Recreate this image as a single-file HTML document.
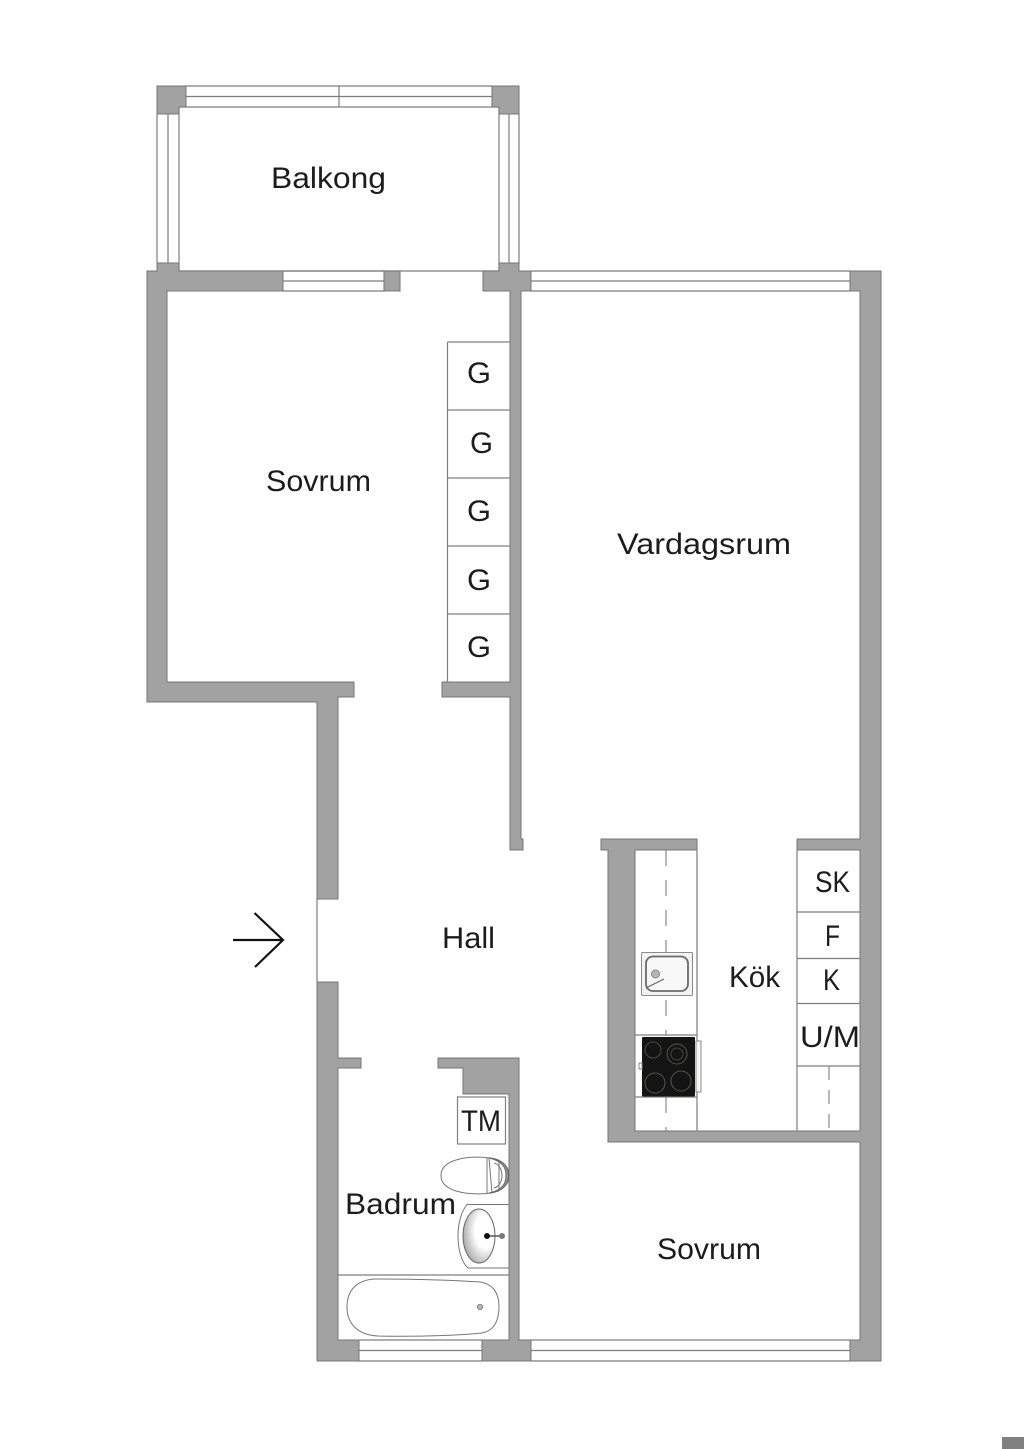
<!DOCTYPE html>
<html><head><meta charset="utf-8"><style>
html,body{margin:0;padding:0;background:#fff;width:1024px;height:1449px;overflow:hidden}
svg{display:block}
.w{fill:#a2a2a2;stroke:#757575;stroke-width:1}
.l{stroke:#7d7d7d;stroke-width:1.2;fill:none}
.d{stroke:#8a8a8a;stroke-width:1.2;fill:none;stroke-dasharray:16 14}
text{font-family:"Liberation Sans",sans-serif;font-size:30px;fill:#1c1c1c}
</style></head><body>
<svg width="1024" height="1449" viewBox="0 0 1024 1449" xmlns="http://www.w3.org/2000/svg">
<rect width="1024" height="1449" fill="#fff"/>
<rect x="1002" y="1437" width="22" height="12" fill="#808080"/>

<!-- balcony -->
<path class="l" d="M186 86H492M186 96.500H492M179 107H499M339 86V107M157 114V263M168 114V263M179 107V271M499 107V271M509 114V263M519 114V263M179 271H499"/>
<polygon class="w" points="157,86 186,86 186,107 179,107 179,114 157,114"/>
<polygon class="w" points="492,86 519,86 519,114 499,114 499,107 492,107"/>

<!-- window lines -->
<path class="l" d="M283 271H384M283 281H384M283 291H384M531 271H850M531 281H850M531 291H850M359 1340H482M359 1350.500H482M359 1361H482M531 1340H850M531 1350.500H850M531 1361H850M317 899V982"/>

<!-- walls -->
<polygon class="w" points="147,271 157,271 157,263 179,263 179,271 283,271 283,291 167,291 167,682 354,682 354,697 338,697 338,899 317,899 317,702 147,702"/>
<rect class="w" x="384" y="271" width="16" height="20"/>
<polygon class="w" points="483,271 499,271 499,263 519,263 519,271 531,271 531,291 521,291 521,839 523,839 523,850 510,850 510,697 442,697 442,682 510,682 510,291 483,291"/>
<polygon class="w" points="850,271 881,271 881,1361 850,1361 850,1340 860,1340 860,1142 608,1142 608,850 601,850 601,839 697,839 697,850 635,850 635,1131 860,1131 860,850 797,850 797,839 860,839 860,291 850,291"/>
<polygon class="w" points="317,982 338,982 338,1058 361,1058 361,1068 338,1068 338,1340 359,1340 359,1361 317,1361"/>
<polygon class="w" points="438,1058 519,1058 519,1340 531,1340 531,1361 482,1361 482,1340 509,1340 509,1094 463,1094 463,1068 438,1068"/>

<!-- wardrobes -->
<path class="l" d="M447.500 342H510M447.500 342V682M447.500 410H510M447.500 478H510M447.500 546H510M447.500 614H510"/>

<!-- kitchen -->
<path class="l" d="M697 850V1131M797 850V1131M635 1035H697M635 1097H697M797 912H860M797 958.500H860M797 1003.500H860M797 1066H860"/>
<path class="d" d="M666 850V1035M666 1097V1131"/>
<path class="d" d="M829 1066V1131" style="stroke-dasharray:14 10"/>
<rect x="641.500" y="952.500" width="51" height="43" rx="1" fill="#f3f3f3" stroke="#8a8a8a"/>
<rect x="646" y="956.500" width="42" height="34.500" rx="7" fill="#f8f8f8" stroke="#6a6a6a" stroke-width="1.800"/>
<circle cx="655.500" cy="974" r="4" fill="#b5b5b5" stroke="#888"/>
<path d="M646 988L664 979" stroke="#666" stroke-width="1.200"/>
<rect x="642" y="1037" width="53" height="59.500" rx="1" fill="#141414"/>
<circle cx="653" cy="1050" r="8" fill="none" stroke="#4c4c40" stroke-width="1"/>
<circle cx="677" cy="1054" r="10" fill="none" stroke="#56564a" stroke-width="1"/>
<circle cx="677" cy="1054" r="6" fill="none" stroke="#45453c" stroke-width="1"/>
<circle cx="655" cy="1083" r="10" fill="none" stroke="#56564a" stroke-width="1"/>
<circle cx="681" cy="1081" r="10" fill="none" stroke="#56564a" stroke-width="1"/>
<rect x="696" y="1041" width="5" height="51" fill="#f5f5f5" stroke="#8a8a8a" stroke-width="1"/>
<rect x="639" y="1063" width="3" height="6" fill="#fff" stroke="#8a8a8a" stroke-width="1"/>

<!-- bathroom -->
<rect x="457.500" y="1097" width="48" height="47" fill="#fff" stroke="#808080" stroke-width="1.200"/>
<path d="M486 1157.500C465 1156 441 1160 441 1175.500C441 1191 465 1195 486 1193.500C500 1193 509 1186 509 1175.500C509 1165 500 1158 486 1157.500Z" fill="#fff" stroke="#777" stroke-width="1"/>
<path d="M487 1157.500V1193.500M489 1158L492 1193M499 1161V1190" stroke="#777" stroke-width="1" fill="none"/>
<path d="M489 1158C503 1159 508.500 1167 508.500 1175.500C508.500 1184 503 1192 489 1193C503 1190 506 1183 506 1175.500C506 1168 503 1161 489 1158Z" fill="#999" stroke="#666" stroke-width="1"/>
<path d="M494 1163C499 1164 502 1170 502 1175.500C502 1181 499 1187 494 1188" fill="none" stroke="#777" stroke-width="1"/>
<path d="M467 1204.500H509V1268H468C461 1262 458 1248 458 1236C458 1224 461 1212 467 1204.500Z" fill="#fff" stroke="#777" stroke-width="1"/>
<defs><radialGradient id="b" cx=".7" cy=".4" r=".8"><stop offset=".4" stop-color="#fff"/><stop offset="1" stop-color="#999"/></radialGradient></defs>
<ellipse cx="479" cy="1236" rx="16" ry="27" fill="url(#b)" stroke="#666" stroke-width="1"/>
<path d="M487 1236H502" stroke="#555" stroke-width="1.500"/>
<circle cx="487" cy="1236" r="3" fill="#111"/>
<circle cx="502" cy="1236" r="3" fill="#777"/>
<path class="l" d="M338 1275H509"/>
<path d="M375 1279C355 1280 347 1292 347 1307C347 1323 357 1335 378 1336C420 1337 465 1335 482 1333C493 1331 499 1322 499 1307C499 1293 493 1284 480 1282C450 1280 410 1279 375 1279Z" fill="#fff" stroke="#777" stroke-width="1"/>
<circle cx="480" cy="1307" r="2.500" fill="#bbb" stroke="#777"/>

<!-- arrow -->
<path d="M233 940H283M254.500 913L283 940L255 967" fill="none" stroke="#111" stroke-width="2.200"/>

<!-- labels -->
<text x="271" y="188" textLength="115" lengthAdjust="spacingAndGlyphs">Balkong</text>
<text x="266" y="491" textLength="105" lengthAdjust="spacingAndGlyphs">Sovrum</text>
<text x="617" y="554" textLength="174" lengthAdjust="spacingAndGlyphs">Vardagsrum</text>
<text x="442" y="948" textLength="53" lengthAdjust="spacingAndGlyphs">Hall</text>
<text x="729" y="987" textLength="51" lengthAdjust="spacingAndGlyphs">Kök</text>
<text x="657" y="1259" textLength="104" lengthAdjust="spacingAndGlyphs">Sovrum</text>
<text x="345" y="1214" textLength="111" lengthAdjust="spacingAndGlyphs">Badrum</text>
<text x="461" y="1131" textLength="40" lengthAdjust="spacingAndGlyphs">TM</text>
<text x="467" y="383" textLength="24" lengthAdjust="spacingAndGlyphs">G</text>
<text x="470" y="453" textLength="23" lengthAdjust="spacingAndGlyphs">G</text>
<text x="467" y="521" textLength="24" lengthAdjust="spacingAndGlyphs">G</text>
<text x="467" y="590" textLength="24" lengthAdjust="spacingAndGlyphs">G</text>
<text x="467" y="657" textLength="24" lengthAdjust="spacingAndGlyphs">G</text>
<text x="815" y="892" textLength="35" lengthAdjust="spacingAndGlyphs">SK</text>
<text x="825" y="946" textLength="15" lengthAdjust="spacingAndGlyphs">F</text>
<text x="823" y="990" textLength="17" lengthAdjust="spacingAndGlyphs">K</text>
<text x="800" y="1047" textLength="60" lengthAdjust="spacingAndGlyphs">U/M</text>
</svg>
</body></html>
